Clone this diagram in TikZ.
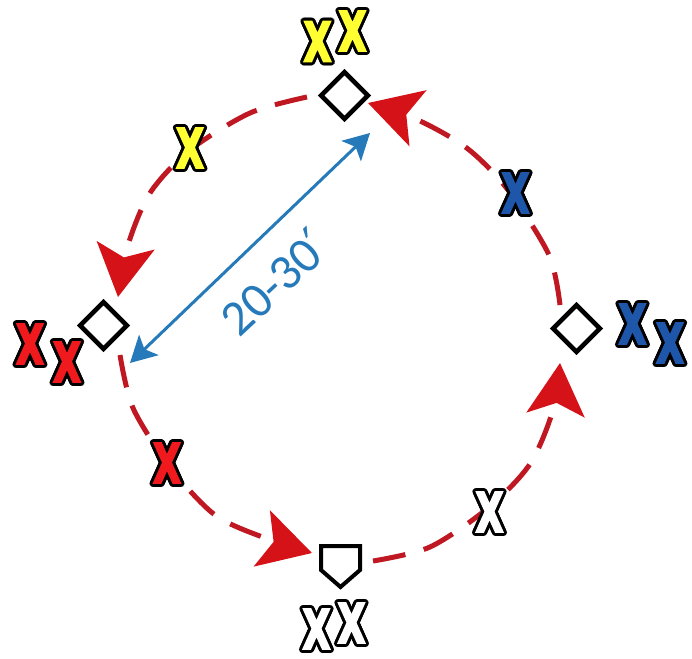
\documentclass[tikz,border=0pt]{standalone}
\usepackage{fontspec}
\usetikzlibrary{arrows.meta,calc}
\newfontfamily\xfont[FakeStretch=0.66,FakeBold=3]{DejaVu Sans Bold}
\newfontfamily\numfont{Carlito}
\newfontfamily\symfont{DejaVu Sans}
\definecolor{arcred}{RGB}{192,24,34}
\definecolor{tipred}{RGB}{212,18,24}
\definecolor{xred}{RGB}{240,26,30}
\definecolor{xyellow}{RGB}{255,255,50}
\definecolor{xblue}{RGB}{30,86,170}
\definecolor{xwhite}{RGB}{255,255,255}
\definecolor{lineblue}{RGB}{38,122,186}
\newcommand\olX[1]{%
  \foreach \a in {0,22.5,...,337.5}{%
    \pgfmathsetmacro\dx{3*cos(\a)}%
    \pgfmathsetmacro\dy{3*sin(\a)}%
    \rlap{\kern\dx pt\raisebox{\dy pt}{\color{black}X}}%
  }%
  \textcolor{#1}{X}%
}
\tikzset{
  bigx/.style={inner sep=0pt, font=\xfont\fontsize{55}{55}\selectfont},
  basebox/.style={draw=black, fill=white, line width=4.5pt, rotate=45,
    minimum size=33pt, inner sep=0pt},
  runarc/.style={draw=arcred, line width=5pt, dash pattern=on 33pt off 19pt,
    -{Stealth[length=52pt,width=58pt,inset=12pt,color=tipred]}},
  bluearr/.style={draw=lineblue, line width=3pt,
    {Stealth[length=26pt,width=28pt,inset=6pt]}-{Stealth[length=26pt,width=28pt,inset=6pt]}},
  distlabel/.style={text=lineblue, inner sep=0pt, font=\numfont\fontsize{50}{50}\selectfont}
}
\begin{document}
\begin{tikzpicture}[x=1pt,y=-1pt]
\useasboundingbox (0,0) rectangle (692,658);
\fill[white] (0,0) rectangle (692,658);

% running arcs
\coordinate (a1s) at (373,561);
\coordinate (a1e) at (560,363);
\coordinate (a2s) at (560,305);
\coordinate (a2e) at (368,103);
\coordinate (a3s) at (307,97);
\coordinate (a3e) at (118,297);
\coordinate (a4s) at (120,355);
\coordinate (a4e) at (312,553);
\draw[runarc] plot[smooth] coordinates {(a1s) (430,547) (488,508) (530,464) (553,410) (a1e)};
\draw[runarc] plot[smooth] coordinates {(a2s) (549,255) (508,190) (468,149) (420,121) (a2e)};
\draw[runarc] plot[smooth] coordinates {(a3s) (250,113) (190,150) (150,193) (128,245) (a3e)};
\draw[runarc] plot[smooth] coordinates {(a4s) (133,408) (170,467) (215,515) (265,538) (a4e)};

% bases
\node[basebox] (second) at (344.5,95.5) {};
\node[basebox] (third) at (103.5,325.5) {};
\node[basebox] (first) at (576.5,328.5) {};
\draw[black, line width=4pt, line join=miter, fill=white]
  (321,546) -- (360,546) -- (360,570) -- (340.5,587) -- (321,570) -- cycle;
\coordinate (home) at (340.5,566);

% distance arrow
\coordinate (d1) at (130,363);
\coordinate (d2) at (370,133);
\draw[bluearr] (d1) -- (d2);
\node[distlabel, rotate=43] (dist) at (274,282) {20-30{\symfont′}};

% players
\node[bigx] (y1) at (317.5,41.5) {\olX{xyellow}};
\node[bigx] (y2) at (352.5,31) {\olX{xyellow}};
\node[bigx] (y3) at (190,148) {\olX{xyellow}};
\node[bigx] (r1) at (30,344) {\olX{xred}};
\node[bigx] (r2) at (67,362) {\olX{xred}};
\node[bigx] (r3) at (167,463) {\olX{xred}};
\node[bigx] (w1) at (316.5,629) {\olX{xwhite}};
\node[bigx] (w2) at (351.5,623) {\olX{xwhite}};
\node[bigx] (w3) at (489.5,512) {\olX{xwhite}};
\node[bigx] (b1) at (632.5,324) {\olX{xblue}};
\node[bigx] (b2) at (670,343) {\olX{xblue}};
\node[bigx] (b3) at (515.5,193) {\olX{xblue}};
\end{tikzpicture}
\end{document}
